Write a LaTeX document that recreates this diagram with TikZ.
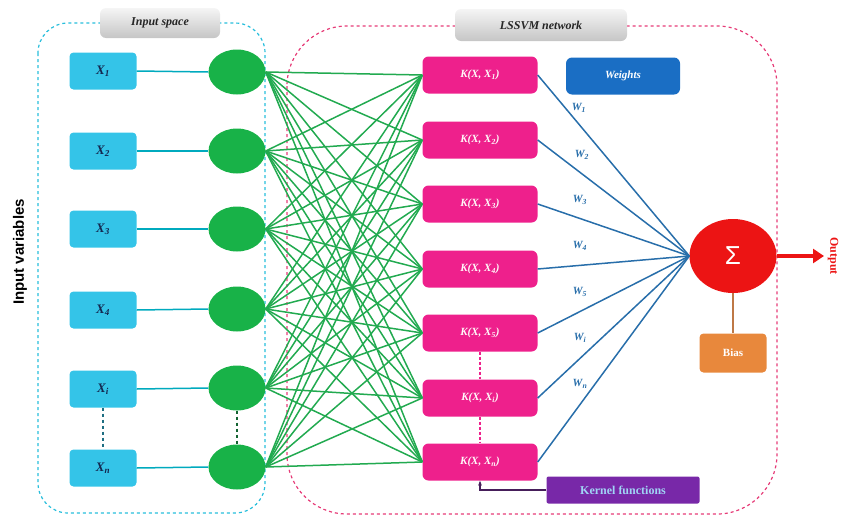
\documentclass[tikz,border=0pt]{standalone}
\usepackage{fontspec}
\setmainfont{Liberation Serif}
\setsansfont{Liberation Sans}
\usetikzlibrary{arrows.meta,shapes.geometric}
\definecolor{xcyan}{RGB}{52,196,232}
\definecolor{xtext}{RGB}{20,40,80}
\definecolor{ngreen}{RGB}{24,178,72}
\definecolor{lgreen}{RGB}{34,170,80}
\definecolor{dkgreen}{RGB}{20,100,50}
\definecolor{kpink}{RGB}{238,32,140}
\definecolor{wblue}{RGB}{26,110,196}
\definecolor{lblue}{RGB}{40,110,170}
\definecolor{sred}{RGB}{236,20,20}
\definecolor{borange}{RGB}{232,136,60}
\definecolor{bline}{RGB}{190,120,70}
\definecolor{kpurple}{RGB}{120,40,168}
\definecolor{klight}{RGB}{160,212,245}
\definecolor{dpurple}{RGB}{70,30,90}
\definecolor{cline}{RGB}{0,170,190}
\definecolor{cdash}{RGB}{40,190,220}
\definecolor{pdash}{RGB}{230,60,120}
\definecolor{tdash}{RGB}{30,110,130}
\begin{document}
\begin{tikzpicture}[x=1pt,y=-1pt,
  xbox/.style={fill=xcyan, rounded corners=4pt, minimum width=67pt, minimum height=37pt, inner sep=0pt, text=xtext, font=\bfseries\itshape\fontsize{13}{13}\selectfont},
  neuron/.style={ellipse, fill=ngreen, minimum width=57pt, minimum height=45pt, inner sep=0pt},
  kbox/.style={fill=kpink, rounded corners=6pt, minimum width=115pt, minimum height=37pt, inner sep=0pt, text=white!92!pink, font=\bfseries\itshape\fontsize{11}{11}\selectfont},
  graybox/.style={top color=gray!8, bottom color=gray!45, rounded corners=6pt, inner sep=0pt, text=black!85, font=\bfseries\itshape\fontsize{12}{12}\selectfont},
  wlabel/.style={text=lblue, font=\bfseries\itshape\fontsize{11}{11}\selectfont, inner sep=1pt},
  gline/.style={draw=lgreen, line width=1.5pt},
  bluel/.style={draw=lblue, line width=1.5pt},
  cyl/.style={draw=cline, line width=1.5pt}
]
\useasboundingbox (0,0) rectangle (841,517);

% panels
\draw[cdash, dashed, line width=1.2pt, rounded corners=30pt] (38,23) rectangle (265,513);
\draw[pdash, dashed, line width=1.2pt, rounded corners=60pt] (287,26) rectangle (777,514);

% input nodes
\node[xbox] (x1) at (103,71) {X\textsubscript{1}};
\node[xbox] (x2) at (103,151) {X\textsubscript{2}};
\node[xbox] (x3) at (103,229) {X\textsubscript{3}};
\node[xbox] (x4) at (103,310) {X\textsubscript{4}};
\node[xbox] (x5) at (103,389) {X\textsubscript{i}};
\node[xbox] (x6) at (103,468) {X\textsubscript{n}};

\foreach \i/\y in {1/72,2/151,3/229,4/309,5/388,6/467}
  \node[neuron] (n\i) at (237,\y) {};

% kernel nodes
\node[kbox] (k1) at (480,75) {K(X, X\textsubscript{1})};
\node[kbox] (k2) at (480,140) {K(X, X\textsubscript{2})};
\node[kbox] (k3) at (480,204) {K(X, X\textsubscript{3})};
\node[kbox] (k4) at (480,269) {K(X, X\textsubscript{4})};
\node[kbox] (k5) at (480,333) {K(X, X\textsubscript{5})};
\node[kbox] (k6) at (480,398) {K(X, X\textsubscript{i})};
\node[kbox] (k7) at (480,462) {K(X, X\textsubscript{n})};

% sum, bias, output
\node[ellipse, fill=sred, minimum width=87pt, minimum height=74pt, inner sep=0pt, text=white, font=\sffamily\fontsize{26}{26}\selectfont] (sum) at (733,256) {Σ};
\node[fill=borange, rounded corners=4pt, minimum width=67pt, minimum height=39pt, inner sep=0pt, text=white, font=\bfseries\fontsize{11}{11}\selectfont] (bias) at (733,353) {Bias};
\coordinate (outtip) at (824,256);
\node[rotate=-90, text=sred, inner sep=0pt, font=\bfseries\fontsize{12}{12}\selectfont] (outlab) at (833,256) {Output};

% labels
\node[fill=wblue, rounded corners=6pt, minimum width=114pt, minimum height=37pt, inner sep=0pt, text=white, font=\bfseries\itshape\fontsize{11}{11}\selectfont] (weights) at (623,76) {Weights};
\node[fill=kpurple, rounded corners=2pt, minimum width=153pt, minimum height=27pt, inner sep=0pt, text=klight, font=\bfseries\fontsize{12}{12}\selectfont] (kf) at (623,490) {Kernel functions};
\node[rotate=90, font=\sffamily\bfseries\fontsize{15}{15}\selectfont] (ivar) at (20,252) {Input variables};

% connectors
\foreach \i in {1,...,6} \draw[cyl] (x\i.east) -- (n\i.west);
\foreach \i in {1,...,6} \foreach \j in {1,...,7} \draw[gline] (n\i.east) -- (k\j.west);
\foreach \j in {1,...,7} \draw[bluel] (k\j.east) -- (sum.west);
\draw[bline, line width=1.4pt] (sum.south) -- (bias.north);
\draw[sred, line width=3.5pt, -{Triangle[length=11pt,width=14pt]}] (sum.east) -- (outtip);
\draw[dpurple, line width=1.4pt, -{Stealth[length=5pt]}] (kf.west) -| (k7.south);

\draw[tdash, dashed, line width=1.2pt] (x5.south) -- (x6.north);
\draw[dkgreen, dashed, line width=1.5pt] (n5.south) -- (n6.north);
\draw[kpink, densely dashed, line width=1.2pt] (k5.south) -- (k6.north);
\draw[kpink, densely dashed, line width=1.2pt] (k6.south) -- (k7.north);

% weight labels
\node[wlabel] (w1) at (579,108) {W\textsubscript{1}};
\node[wlabel] (w2) at (582,155) {W\textsubscript{2}};
\node[wlabel] (w3) at (580,200) {W\textsubscript{3}};
\node[wlabel] (w4) at (580,246) {W\textsubscript{4}};
\node[wlabel] (w5) at (580,292) {W\textsubscript{5}};
\node[wlabel] (wi) at (580,338) {W\textsubscript{i}};
\node[wlabel] (wn) at (580,384) {W\textsubscript{n}};

% panel titles
\node[graybox, minimum width=120pt, minimum height=30pt] (tin) at (160,23) {Input space};
\node[graybox, minimum width=172pt, minimum height=32pt] (tls) at (541,25) {LSSVM network};
\end{tikzpicture}
\end{document}
